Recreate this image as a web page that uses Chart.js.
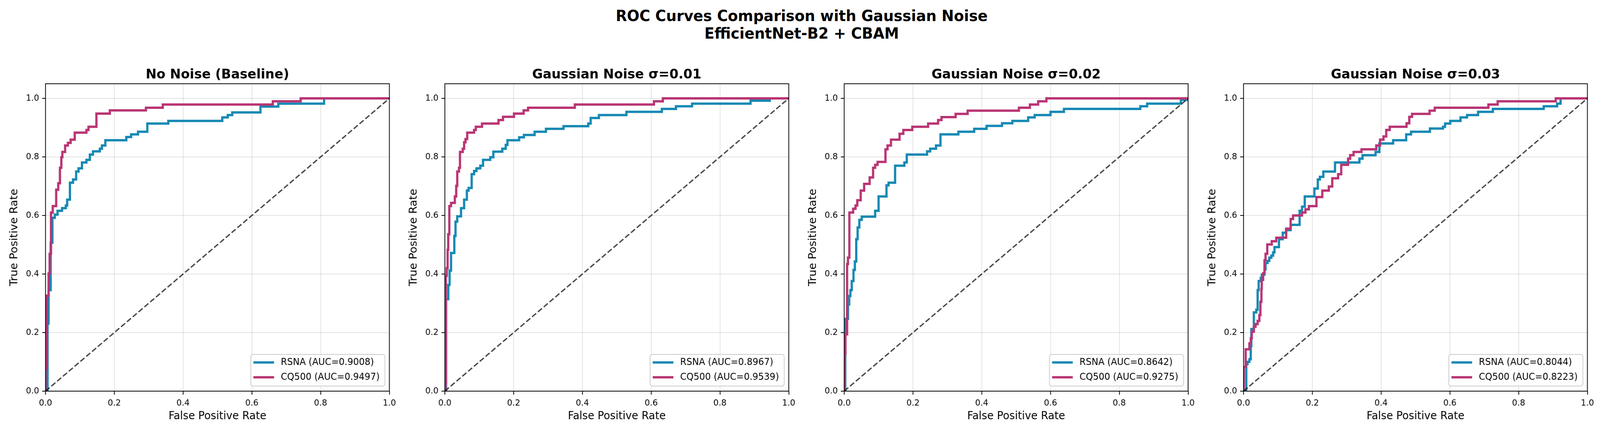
<!DOCTYPE html>
<html>
<head>
<meta charset="utf-8">
<script src="https://cdn.jsdelivr.net/npm/chart.js@4.4.1/dist/chart.umd.min.js"></script>
<style>
  html, body { margin: 0; padding: 0; width: 100%; height: 100%; overflow: hidden; background: #fff; }
  #page { position: absolute; left: 0; top: 0; width: 4255px; height: 1099px; overflow: hidden; background: #fff; transform-origin: 0 0; }
  .suptitle {
    position: absolute; left: 0; top: 18px; width: 4264px;
    text-align: center; color: #000;
    font: bold 39px/45px 'DejaVu Sans', sans-serif;
  }
  .panel { position: absolute; top: 0; width: 1062px; height: 1099px; }
</style>
</head>
<body>
<div id="page">
  <div class="suptitle">ROC Curves Comparison with Gaussian Noise<br>EfficientNet-B2 + CBAM</div>
  <div class="panel" style="left:0px"><canvas id="roc0" width="1062" height="1099"></canvas></div>
  <div class="panel" style="left:1062px"><canvas id="roc1" width="1062" height="1099"></canvas></div>
  <div class="panel" style="left:2124px"><canvas id="roc2" width="1062" height="1099"></canvas></div>
  <div class="panel" style="left:3186px"><canvas id="roc3" width="1062" height="1099"></canvas></div>
</div>
<script>
// Panel titles and AUC values
const panelTitles = ['No Noise (Baseline)', 'Gaussian Noise σ=0.01', 'Gaussian Noise σ=0.02', 'Gaussian Noise σ=0.03'];
const rsnaAuc = [0.9008, 0.8967, 0.8642, 0.8044];
const cq500Auc = [0.9497, 0.9539, 0.9275, 0.8223];

// Axis ticks
const xTicks = [0, 0.2, 0.4, 0.6, 0.8, 1.0];
const yTicks = [0, 0.2, 0.4, 0.6, 0.8, 1.0];
const tickLabels = ['0.0', '0.2', '0.4', '0.6', '0.8', '1.0'];

// Chance line
const chanceX = [0, 1];
const chanceY = [0, 1];

// ROC step corners (fpr, tpr)
// No noise
const rsnaFprClean = [0, 0.006, 0.009, 0.015, 0.020, 0.027, 0.035, 0.048, 0.059, 0.063, 0.071, 0.080, 0.089, 0.096, 0.106, 0.119, 0.129, 0.138, 0.158, 0.164, 0.174, 0.235, 0.249, 0.269, 0.296, 0.357, 0.514, 0.530, 0.543, 0.625, 0.677, 0.810, 1.0];
const rsnaTprClean = [0, 0.231, 0.345, 0.507, 0.592, 0.603, 0.616, 0.625, 0.634, 0.654, 0.712, 0.723, 0.750, 0.761, 0.781, 0.790, 0.808, 0.819, 0.828, 0.839, 0.857, 0.868, 0.877, 0.886, 0.914, 0.923, 0.935, 0.943, 0.952, 0.972, 0.982, 1.0, 1.0];
const cq500FprClean = [0, 0, 0.004, 0.009, 0.012, 0.016, 0.021, 0.031, 0.037, 0.042, 0.046, 0.049, 0.057, 0.065, 0.073, 0.085, 0.119, 0.125, 0.148, 0.187, 0.292, 0.341, 0.661, 0.742, 1.0];
const cq500TprClean = [0, 0.077, 0.326, 0.402, 0.469, 0.610, 0.632, 0.688, 0.710, 0.763, 0.799, 0.817, 0.839, 0.848, 0.859, 0.883, 0.892, 0.903, 0.948, 0.959, 0.968, 0.979, 0.990, 1.0, 1.0];

// sigma = 0.01
const rsnaFpr001 = [0, 0.0036, 0.010, 0.0138, 0.018, 0.0275, 0.031, 0.036, 0.047, 0.056, 0.064, 0.069, 0.078, 0.085, 0.092, 0.103, 0.111, 0.132, 0.141, 0.167, 0.177, 0.182, 0.216, 0.230, 0.261, 0.294, 0.345, 0.417, 0.424, 0.448, 0.528, 0.631, 0.672, 0.719, 0.889, 0.945, 1.0];
const rsnaTpr001 = [0, 0.314, 0.363, 0.412, 0.472, 0.530, 0.579, 0.597, 0.625, 0.654, 0.685, 0.694, 0.741, 0.752, 0.761, 0.770, 0.790, 0.799, 0.818, 0.828, 0.841, 0.857, 0.867, 0.875, 0.886, 0.896, 0.905, 0.914, 0.933, 0.943, 0.954, 0.964, 0.973, 0.982, 0.992, 1.0, 1.0];
const cq500Fpr001 = [0, 0.002, 0.003, 0.0055, 0.008, 0.0098, 0.013, 0.018, 0.029, 0.033, 0.036, 0.041, 0.044, 0.052, 0.056, 0.060, 0.065, 0.085, 0.090, 0.108, 0.156, 0.169, 0.201, 0.229, 0.242, 0.378, 0.608, 0.634, 1.0];
const cq500Tpr001 = [0, 0.029, 0.394, 0.420, 0.483, 0.536, 0.632, 0.643, 0.665, 0.701, 0.750, 0.763, 0.817, 0.828, 0.850, 0.861, 0.883, 0.892, 0.903, 0.914, 0.926, 0.937, 0.948, 0.959, 0.968, 0.979, 0.990, 1.0, 1.0];

// sigma = 0.02
const rsnaFpr002 = [0, 0.003, 0.011, 0.0146, 0.018, 0.022, 0.027, 0.031, 0.035, 0.039, 0.044, 0.051, 0.090, 0.100, 0.123, 0.129, 0.148, 0.175, 0.182, 0.241, 0.250, 0.267, 0.280, 0.332, 0.378, 0.414, 0.459, 0.489, 0.535, 0.554, 0.600, 0.639, 0.861, 0.881, 0.979, 1.0];
const rsnaTpr002 = [0, 0.247, 0.296, 0.325, 0.345, 0.376, 0.414, 0.443, 0.519, 0.559, 0.585, 0.596, 0.616, 0.665, 0.703, 0.712, 0.770, 0.781, 0.808, 0.819, 0.828, 0.839, 0.877, 0.886, 0.896, 0.906, 0.915, 0.923, 0.935, 0.943, 0.954, 0.964, 0.973, 0.982, 0.995, 1.0];
const cq500Fpr002 = [0, 0.0018, 0.0036, 0.0084, 0.011, 0.015, 0.026, 0.033, 0.038, 0.048, 0.058, 0.074, 0.084, 0.090, 0.097, 0.120, 0.126, 0.136, 0.161, 0.172, 0.198, 0.244, 0.273, 0.283, 0.324, 0.359, 0.508, 0.540, 0.564, 0.588, 1.0];
const cq500Tpr002 = [0, 0.127, 0.194, 0.434, 0.456, 0.610, 0.623, 0.634, 0.652, 0.685, 0.708, 0.730, 0.763, 0.773, 0.783, 0.826, 0.839, 0.859, 0.879, 0.892, 0.903, 0.914, 0.926, 0.936, 0.947, 0.958, 0.968, 0.979, 0.990, 1.0, 1.0];

// sigma = 0.03
const rsnaFpr003 = [0, 0.008, 0.0116, 0.017, 0.021, 0.0226, 0.030, 0.037, 0.041, 0.044, 0.050, 0.053, 0.061, 0.064, 0.070, 0.075, 0.081, 0.086, 0.090, 0.103, 0.114, 0.124, 0.137, 0.163, 0.170, 0.178, 0.206, 0.216, 0.222, 0.232, 0.266, 0.337, 0.346, 0.384, 0.395, 0.435, 0.473, 0.487, 0.542, 0.580, 0.586, 0.601, 0.631, 0.650, 0.682, 0.725, 0.873, 0.912, 0.922, 1.0];
const rsnaTpr003 = [0, 0.092, 0.100, 0.109, 0.154, 0.212, 0.269, 0.278, 0.345, 0.376, 0.387, 0.398, 0.416, 0.438, 0.445, 0.456, 0.463, 0.474, 0.492, 0.519, 0.541, 0.550, 0.568, 0.616, 0.630, 0.665, 0.692, 0.723, 0.732, 0.750, 0.781, 0.794, 0.806, 0.817, 0.846, 0.857, 0.877, 0.886, 0.897, 0.903, 0.914, 0.923, 0.935, 0.943, 0.954, 0.964, 0.973, 0.982, 1.0, 1.0];
const cq500Fpr003 = [0, 0.0007, 0.0062, 0.017, 0.021, 0.024, 0.030, 0.035, 0.041, 0.046, 0.049, 0.052, 0.053, 0.057, 0.061, 0.064, 0.069, 0.082, 0.095, 0.124, 0.137, 0.144, 0.170, 0.180, 0.190, 0.212, 0.229, 0.248, 0.258, 0.275, 0.284, 0.304, 0.310, 0.320, 0.343, 0.386, 0.397, 0.407, 0.415, 0.425, 0.474, 0.482, 0.490, 0.541, 0.556, 0.712, 0.739, 0.908, 1.0];
const cq500Tpr003 = [0, 0.083, 0.143, 0.163, 0.180, 0.203, 0.220, 0.229, 0.240, 0.260, 0.305, 0.349, 0.380, 0.403, 0.447, 0.469, 0.501, 0.512, 0.524, 0.555, 0.588, 0.600, 0.610, 0.621, 0.632, 0.663, 0.685, 0.699, 0.727, 0.741, 0.773, 0.794, 0.806, 0.817, 0.826, 0.839, 0.859, 0.870, 0.892, 0.903, 0.915, 0.937, 0.947, 0.958, 0.968, 0.979, 0.990, 1.0, 1.0];

const rsnaFpr = [rsnaFprClean, rsnaFpr001, rsnaFpr002, rsnaFpr003];
const rsnaTpr = [rsnaTprClean, rsnaTpr001, rsnaTpr002, rsnaTpr003];
const cq500Fpr = [cq500FprClean, cq500Fpr001, cq500Fpr002, cq500Fpr003];
const cq500Tpr = [cq500TprClean, cq500Tpr001, cq500Tpr002, cq500Tpr003];

const rsnaColor = '#1589b3';
const cq500Color = '#b93473';
const gridColor = 'rgba(176, 176, 176, 0.35)';
const FONT = "'DejaVu Sans', sans-serif";

// Fit the 4255x1099 figure into whatever viewport we get
const PAGE_W = 4255, PAGE_H = 1099;
const sx = (window.innerWidth || PAGE_W) / PAGE_W;
const sy = (window.innerHeight || PAGE_H) / PAGE_H;
document.getElementById('page').style.transform = 'scale(' + sx + ',' + sy + ')';
const renderRatio = Math.max(1, Math.max(sx, sy) * (window.devicePixelRatio || 1));

Chart.defaults.font.family = FONT;
Chart.defaults.color = '#000';

function toPoints(xs, ys) {
    return xs.map((x, i) => ({ x: x, y: ys[i] }));
}

// Frame, panel title and legend box (drawn like matplotlib)
const panelDecor = {
    id: 'panelDecor',
    afterDraw(chart, args, opts) {
        const ctx = chart.ctx;
        const a = chart.chartArea;
        ctx.save();

        // spines
        ctx.strokeStyle = '#000';
        ctx.lineWidth = 2;
        ctx.strokeRect(a.left, a.top, a.right - a.left, a.bottom - a.top);

        // panel title
        ctx.fillStyle = '#000';
        ctx.font = 'bold 34.5px ' + FONT;
        ctx.textAlign = 'center';
        ctx.textBaseline = 'alphabetic';
        ctx.fillText(opts.title, (a.left + a.right) / 2, a.top - 14);

        // legend
        ctx.font = '24px ' + FONT;
        const items = opts.items;
        const textW = Math.max.apply(null, items.map(it => ctx.measureText(it.label).width));
        const w = 80 + textW + 14;
        const h = 81;
        const x0 = a.right - 12 - w;
        const y0 = a.bottom - 13 - h;
        const r = 6;
        ctx.beginPath();
        ctx.moveTo(x0 + r, y0);
        ctx.arcTo(x0 + w, y0, x0 + w, y0 + h, r);
        ctx.arcTo(x0 + w, y0 + h, x0, y0 + h, r);
        ctx.arcTo(x0, y0 + h, x0, y0, r);
        ctx.arcTo(x0, y0, x0 + w, y0, r);
        ctx.closePath();
        ctx.fillStyle = 'rgba(255, 255, 255, 0.8)';
        ctx.fill();
        ctx.strokeStyle = '#cccccc';
        ctx.lineWidth = 2;
        ctx.stroke();

        items.forEach((it, k) => {
            const cy = y0 + 20.5 + k * 38;
            ctx.beginPath();
            ctx.moveTo(x0 + 7, cy);
            ctx.lineTo(x0 + 62, cy);
            ctx.strokeStyle = it.color;
            ctx.lineWidth = 6;
            ctx.stroke();
            ctx.fillStyle = '#000';
            ctx.textAlign = 'left';
            ctx.textBaseline = 'middle';
            ctx.fillText(it.label, x0 + 80, cy);
        });
        ctx.restore();
    }
};

const tickFont = { family: FONT, size: 22, lineHeight: 1.2 };
const labelFont = { family: FONT, size: 28, lineHeight: 1.2 };

panelTitles.forEach((title, p) => {
    const ctx = document.getElementById('roc' + p).getContext('2d');
    new Chart(ctx, {
        type: 'line',
        data: {
            datasets: [{
                label: 'RSNA (AUC=' + rsnaAuc[p].toFixed(4) + ')',
                data: toPoints(rsnaFpr[p], rsnaTpr[p]),
                borderColor: rsnaColor,
                borderWidth: 6,
                stepped: 'before',
                pointRadius: 0,
                fill: false,
                order: 2
            }, {
                label: 'CQ500 (AUC=' + cq500Auc[p].toFixed(4) + ')',
                data: toPoints(cq500Fpr[p], cq500Tpr[p]),
                borderColor: cq500Color,
                borderWidth: 6,
                stepped: 'before',
                pointRadius: 0,
                fill: false,
                order: 1
            }, {
                label: 'Random',
                data: toPoints(chanceX, chanceY),
                borderColor: 'rgba(0, 0, 0, 0.72)',
                borderWidth: 3.5,
                borderDash: [14, 6],
                pointRadius: 0,
                fill: false,
                order: 0
            }]
        },
        options: {
            responsive: false,
            animation: false,
            devicePixelRatio: renderRatio,
            layout: { padding: { top: 214.5, right: 25, bottom: 0, left: 0 } },
            plugins: {
                legend: { display: false },
                tooltip: { enabled: false },
                panelDecor: {
                    title: title,
                    items: [
                        { label: 'RSNA (AUC=' + rsnaAuc[p].toFixed(4) + ')', color: rsnaColor },
                        { label: 'CQ500 (AUC=' + cq500Auc[p].toFixed(4) + ')', color: cq500Color }
                    ]
                }
            },
            scales: {
                x: {
                    type: 'linear',
                    min: 0,
                    max: 1,
                    afterBuildTicks: s => { s.ticks = xTicks.map(v => ({ value: v })); },
                    afterFit: s => { s.height = 97; },
                    ticks: {
                        autoSkip: false,
                        maxRotation: 0,
                        padding: 9,
                        color: '#000',
                        font: tickFont,
                        callback: (v, i) => tickLabels[i]
                    },
                    grid: { color: gridColor, lineWidth: 2, tickLength: 9, tickColor: '#000', tickWidth: 2 },
                    border: { display: false },
                    title: { display: true, text: 'False Positive Rate', color: '#000', font: labelFont, padding: { top: 0, bottom: 15 } }
                },
                y: {
                    type: 'linear',
                    min: 0,
                    max: 1.05,
                    afterBuildTicks: s => { s.ticks = yTicks.map(v => ({ value: v })); },
                    afterFit: s => { s.width = 121; },
                    ticks: {
                        autoSkip: false,
                        padding: 8,
                        color: '#000',
                        font: tickFont,
                        callback: (v, i) => tickLabels[i]
                    },
                    grid: { color: gridColor, lineWidth: 2, tickLength: 9, tickColor: '#000', tickWidth: 2 },
                    border: { display: false },
                    title: { display: true, text: 'True Positive Rate', color: '#000', font: labelFont, padding: { top: 22, bottom: 0 } }
                }
            }
        },
        plugins: [panelDecor]
    });
});
</script>
</body>
</html>
